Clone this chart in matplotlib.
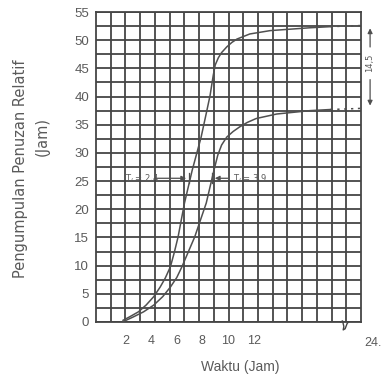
import numpy as np
import matplotlib
matplotlib.use("Agg")
import matplotlib.pyplot as plt
from matplotlib.transforms import blended_transform_factory

# ---- data ----
upper_hours = [1.8, 2.3, 3.0, 3.6, 4.2, 4.7, 5.1, 5.5, 5.8, 6.1, 6.6, 7.2, 7.9, 8.3, 8.6, 8.85, 9.0, 9.25, 9.5, 9.9, 10.3, 10.7, 11.7, 13.3, 16.4, 18.0]
upper_vals = [0.3, 0.9, 1.8, 3.0, 4.5, 6.2, 7.8, 9.8, 12.3, 15.1, 21.1, 26.9, 32.8, 37.0, 40.2, 43.8, 45.6, 46.9, 47.8, 48.8, 49.6, 50.2, 51.1, 51.7, 52.2, 52.4]
upper_tail_hours = [18.0, 20.4]
upper_tail_vals = [52.4, 52.6]

lower_hours = [1.8, 2.6, 3.4, 4.2, 4.9, 5.5, 6.0, 6.4, 7.4, 8.3, 8.9, 9.2, 9.5, 9.9, 10.4, 10.9, 11.5, 12.2, 13.8, 16.4, 18.0]
lower_vals = [0.05, 0.9, 1.8, 3.0, 4.5, 6.2, 7.9, 9.8, 15.1, 21.1, 26.9, 29.6, 31.4, 32.8, 33.8, 34.6, 35.4, 36.1, 36.9, 37.5, 37.7]
lower_tail_hours = [18.0, 20.4]
lower_tail_vals = [37.7, 37.9]

x_ticks = [2, 4, 6, 8, 10, 12]
x_tick_labels = ["2", "4", "6", "8", "10", "12"]
y_ticks = [0, 5, 10, 15, 20, 25, 30, 35, 40, 45, 50, 55]

tl1_label = "T$_l$ = 2,4"
tl2_label = "T$_l$ = 3,9"
diff_label = "14,5"

# ---- figure ----
W, H = 386, 380
fig = plt.figure(figsize=(W / 100, H / 100), dpi=100)
ax = fig.add_axes([96 / W, 1 - 322 / H, (361 - 96) / W, (322 - 12) / H])

xmin, xmax = -0.3125, 20.39
ax.set_xlim(xmin, xmax)
ax.set_ylim(0, 55)

gridc = "#454545"
curvec = "#505050"
textc = "#5a5a5a"

# graph-paper grid
ax.set_xticks(np.linspace(xmin, xmax, 19)[1:-1], minor=True)
ax.set_yticks(np.arange(2.5, 55, 2.5), minor=True)
ax.grid(which="minor", color=gridc, linewidth=1.3)
ax.grid(which="major", axis="y", color=gridc, linewidth=1.3)
for s in ax.spines.values():
    s.set_color(gridc)
    s.set_linewidth(1.3)

ax.set_xticks(x_ticks)
ax.set_xticklabels(x_tick_labels)
ax.set_yticks(y_ticks)
ax.tick_params(which="both", length=0)
ax.tick_params(axis="x", pad=9, labelsize=9, labelcolor=textc)
ax.tick_params(axis="y", pad=5, labelsize=9.5, labelcolor=textc)
for lab in ax.get_xticklabels() + ax.get_yticklabels():
    lab.set_family("Liberation Sans")

tr = blended_transform_factory(ax.transData, ax.transAxes)
ax.text(21.3, -0.048, "24.", transform=tr, ha="center", va="top",
        fontsize=9, color=textc, family="Liberation Sans", clip_on=False)

# curves
ax.plot(upper_hours, upper_vals, color=curvec, linewidth=1.1, zorder=3)
ax.plot(upper_tail_hours, upper_tail_vals, color=curvec, linewidth=1.1, linestyle=(0, (1.5, 3)), zorder=3)
ax.plot(lower_hours, lower_vals, color=curvec, linewidth=1.1, zorder=3)
ax.plot(lower_tail_hours, lower_tail_vals, color=curvec, linewidth=1.1, linestyle=(0, (1.5, 3)), zorder=3)

# lag-time annotations
ya = 25.5
ax.text(1.95, ya, tl1_label, fontsize=6, color=textc, va="center", ha="left", zorder=4)
ax.annotate("", xy=(6.95, ya), xytext=(4.1, ya),
            arrowprops=dict(arrowstyle="-|>", color=curvec, lw=0.9, mutation_scale=7))
ax.plot([6.95, 6.95], [ya - 0.9, ya + 0.9], color=curvec, lw=0.9)
ax.annotate("", xy=(8.75, ya), xytext=(10.2, ya),
            arrowprops=dict(arrowstyle="-|>", color=curvec, lw=0.9, mutation_scale=7))
ax.plot([8.75, 8.75], [ya - 0.9, ya + 0.9], color=curvec, lw=0.9)
ax.text(10.4, ya, tl2_label, fontsize=6, color=textc, va="center", ha="left", zorder=4)

# difference annotation on right
xd = 21.1
ax.annotate("", xy=(xd, upper_tail_vals[-1]), xytext=(xd, 48.3), annotation_clip=False,
            arrowprops=dict(arrowstyle="-|>", color=curvec, lw=0.9, mutation_scale=7))
ax.annotate("", xy=(xd, lower_tail_vals[-1]), xytext=(xd, 43.5), annotation_clip=False,
            arrowprops=dict(arrowstyle="-|>", color=curvec, lw=0.9, mutation_scale=7))
ax.text(xd, 45.9, diff_label, rotation=90, fontsize=6, color=textc,
        ha="center", va="center", clip_on=False)

# axis break mark (small squiggle below the axis)
ax.plot([18.8, 18.95, 19.05, 19.0, 19.15, 19.3, 19.4], [0, 0.2, -0.8, -1.4, -1.2, -0.3, 0],
        color=gridc, lw=1.0, clip_on=False, zorder=5)

# axis labels
fig.text(240 / W, 1 - 367 / H, "Waktu (Jam)", ha="center", va="center",
         fontsize=10, color=textc, family="Liberation Sans")
fig.text(21 / W, 1 - 169 / H, "Pengumpulan Penuzan Relatif", rotation=90,
         ha="center", va="center", fontsize=10.5, color=textc, family="DejaVu Sans")
fig.text(42 / W, 1 - 137 / H, "(Jam)", rotation=90, ha="center", va="center",
         fontsize=10.5, color=textc, family="DejaVu Sans")

fig.savefig("out.png", dpi=100)
